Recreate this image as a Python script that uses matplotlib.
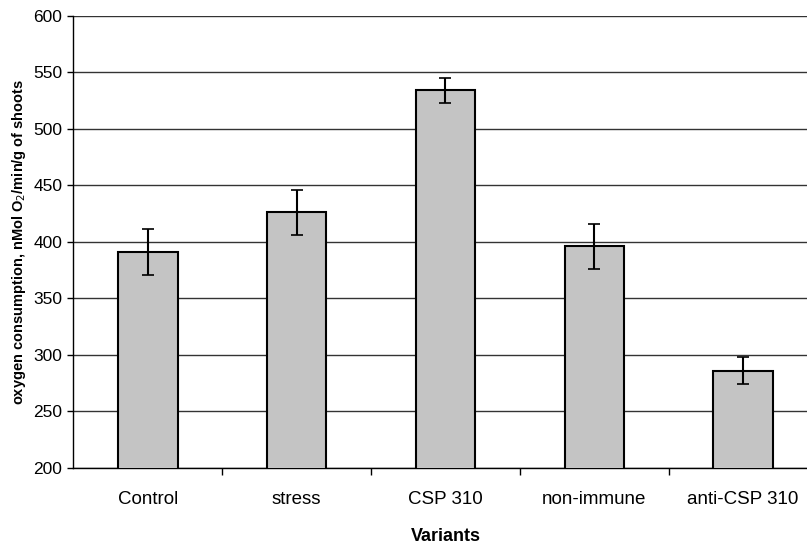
import matplotlib.pyplot as plt
import numpy as np

plt.rcParams['font.family'] = ['Liberation Sans', 'DejaVu Sans']

# Dados
variantes = ['Control', 'stress', 'CSP 310', 'non-immune', 'anti-CSP 310']
consumo = [391, 426, 534, 396, 286]
erro = [20, 20, 11, 20, 12]

fig = plt.figure(figsize=(8.07, 5.44), dpi=100)
ax = fig.add_axes([0.091, 0.14, 0.922, 0.831])

x = np.arange(len(variantes))
ax.bar(x, consumo, width=0.4, color='#c4c4c4', edgecolor='black', linewidth=1.5, zorder=3)
ax.errorbar(x, consumo, yerr=erro, fmt='none', ecolor='black', elinewidth=1.5,
            capsize=4, capthick=1.2, zorder=4)

ax.set_xlim(-0.5, len(variantes) - 0.5)
ax.set_ylim(200, 600)
ax.set_yticks(range(200, 601, 50))
ax.tick_params(axis='y', labelsize=12.5, length=4, width=1, direction='out', pad=4)

# Marcas do eixo X entre as categorias
ax.set_xticks(np.arange(0.5, len(variantes) - 0.5, 1))
ax.set_xticks(x, minor=True)
ax.set_xticklabels([])
ax.set_xticklabels(variantes, minor=True)
ax.tick_params(axis='x', which='major', length=5, width=1, direction='out')
ax.tick_params(axis='x', which='minor', length=0, labelsize=13.5, pad=17)

ax.grid(axis='y', color='#333333', linewidth=1, zorder=0)
for lado in ['top', 'right']:
    ax.spines[lado].set_visible(False)
ax.spines['left'].set_linewidth(1)
ax.spines['bottom'].set_linewidth(1)

ax.set_xlabel('Variants', fontsize=13, fontweight='bold', labelpad=14)
ax.set_ylabel('oxygen consumption, nMol O$_2$/min/g of shoots', fontsize=10.5,
              fontweight='bold', labelpad=4)

fig.savefig('out.png', dpi=100)
